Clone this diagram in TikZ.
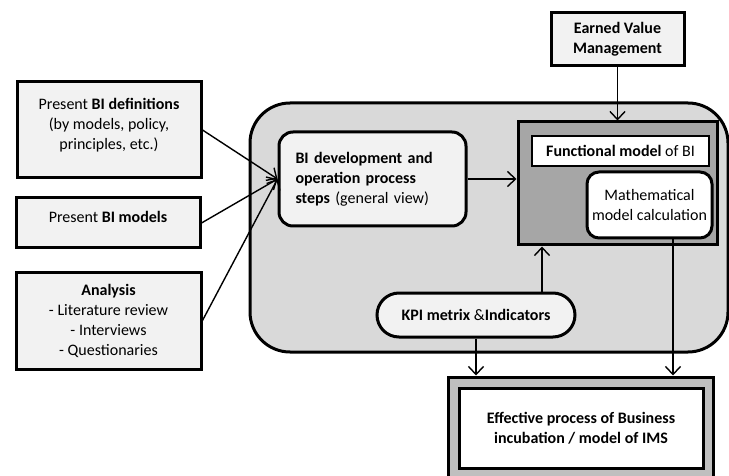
\documentclass[tikz,border=0pt]{standalone}
\usepackage{fontspec}
\setmainfont{Carlito}
\usepackage{tikz}
\usetikzlibrary{arrows.meta, positioning}
\definecolor{boxgray}{HTML}{F2F2F2}
\definecolor{coregray}{HTML}{D9D9D9}
\definecolor{funcgray}{HTML}{A6A6A6}
\definecolor{effgray}{HTML}{BFBFBF}

\begin{document}
\begin{tikzpicture}[x=1pt, y=-1pt, line width=1.4pt,
	->, >={Straight Barb[length=8pt,width=15pt]},
	font=\fontsize{16}{20}\selectfont,
	every node/.style={inner sep=0pt, align=center},
	box/.style={draw, line width=3pt, fill=boxgray},
	rbox/.style={box, rounded corners=14pt}]
		\useasboundingbox (0,0) rectangle (729,476);
		% background blocks
		\node[draw, line width=3pt, fill=coregray, rounded corners=40pt, minimum width=478pt, minimum height=249pt]	(core) at (489,227.5) {};
		\node[draw, line width=3pt, fill=effgray, minimum width=265pt, minimum height=110pt]	(effout) at (580.5,432) {};
		% inputs
		\node[box, minimum width=133pt, minimum height=53pt]	(evm) at (617.5,39.5) {\textbf{Earned Value}\\\textbf{Management}};
		\node[box, minimum width=184pt, minimum height=96pt, text depth=12pt]	(def) at (109,130) {Present \textbf{BI definitions}\\(by models, policy,\\principles, etc.)};
		\node[box, minimum width=184pt, minimum height=50pt, text depth=13pt]	(mod) at (108,223) {Present \textbf{BI models}};
		\node[box, minimum width=185pt, minimum height=97pt]	(ana) at (108.5,320.5) {\textbf{Analysis}\\- Literature review\\- Interviews\\- Questionaries};
		% core
		\node[rbox, minimum width=187pt, minimum height=94pt, align=left, text width=154pt]	(dev) at (372.5,179) {\textbf{BI development and}\\\textbf{operation process}\\\textbf{steps} (general view)};
		\node[draw, line width=3pt, fill=funcgray, minimum width=199pt, minimum height=123pt]	(func) at (617.5,183.5) {};
		\node[draw, line width=2pt, fill=white, minimum width=177pt, minimum height=30pt]	(fm) at (620.5,151) {\textbf{Functional model} of BI};
		\node[rbox, fill=white, rounded corners=12pt, minimum width=125pt, minimum height=66pt]	(math) at (649.5,205) {Mathematical\\model calculation};
		\node[rbox, rounded corners=22pt, minimum width=198pt, minimum height=44pt]	(kpi) at (476,315) {\textbf{KPI metrix} \&\textbf{Indicators}};
		% result
		\node[draw, line width=3pt, fill=white, minimum width=244pt, minimum height=80pt]	(eff) at (581,428) {\textbf{Effective process of Business}\\\textbf{incubation / model of IMS}};
		\coordinate	(kpiup) at ([xshift=66pt]kpi.north);
		\coordinate	(mathdown) at ([xshift=23.5pt]math.south);
		\path
		(def.east)	edge	(dev.west)
		(mod.east)	edge	(dev.west)
		(ana.east)	edge	(dev.west)
		(dev.east)	edge	(func.west |- dev.east)
		(evm)		edge	(func)
		(kpiup)		edge	(kpiup |- func.south)
		(kpi.south)	edge	(kpi.south |- effout.north)
		(mathdown)	edge	(mathdown |- effout.north);
		\end{tikzpicture}
\end{document}
